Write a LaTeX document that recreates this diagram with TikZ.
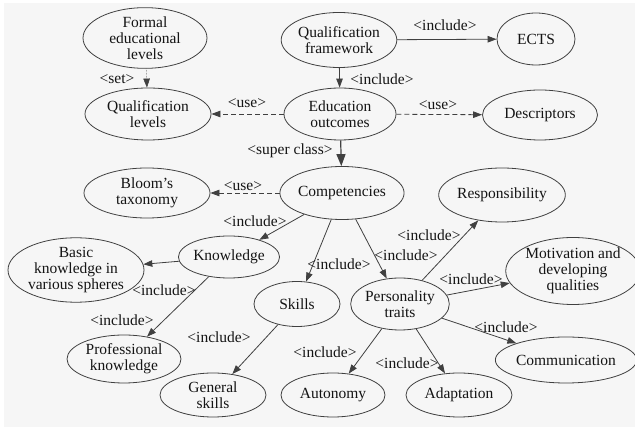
\documentclass[tikz,border=0pt]{standalone}
\usepackage{fontspec}
\setmainfont{Liberation Serif}
\usetikzlibrary{shapes.geometric,arrows.meta}
\definecolor{bgcol}{HTML}{F6F6F6}
\definecolor{edgecol}{HTML}{404040}
\definecolor{txtcol}{HTML}{141414}

\tikzset{
  concept/.style={ellipse, draw=edgecol, line width=0.8pt, inner sep=0pt,
    align=center, text=txtcol, font=\fontsize{15.5}{16}\selectfont},
  rel/.style={draw=edgecol, line width=0.8pt, -{Triangle[length=9pt,width=6.5pt]}},
  userel/.style={rel, dash pattern=on 5pt off 3pt},
  setrel/.style={rel, line width=0.5pt, densely dotted},
  superrel/.style={draw=edgecol, line width=1.2pt, -{Triangle[length=12pt,width=9pt]}},
  lbl/.style={inner sep=0pt, text=txtcol, font=\fontsize{15.5}{16}\selectfont},
}

\begin{document}
\begin{tikzpicture}[x=1pt,y=-1pt]
  \useasboundingbox (0,0) rectangle (635,427);
  \fill[bgcol] (4,3) rectangle (635,427);

  % concepts
  \node[concept, minimum width=124pt, minimum height=52pt] (formal) at (145,38) {Formal\\educational\\levels};
  \node[concept, minimum width=114pt, minimum height=55pt] (qframe) at (339,40) {Qualification\\framework};
  \node[concept, minimum width=78pt, minimum height=52pt] (ects) at (536,39) {ECTS};
  \node[concept, minimum width=126pt, minimum height=52pt] (qlevels) at (148,114) {Qualification\\levels};
  \node[concept, minimum width=112pt, minimum height=52pt] (eduout) at (340,114) {Education\\outcomes};
  \node[concept, minimum width=115pt, minimum height=50pt] (descr) at (540,115) {Descriptors};
  \node[concept, minimum width=126pt, minimum height=50pt] (bloom) at (147,193) {Bloom{\char"27}s\\taxonomy};
  \node[concept, minimum width=118pt, minimum height=53pt] (compet) at (342,193) {Competencies};
  \node[concept, minimum width=119pt, minimum height=54pt] (resp) at (502,195) {Responsibility};
  \node[concept, minimum width=98pt, minimum height=42pt] (knowl) at (229,257) {Knowledge};
  \node[concept, minimum width=136pt, minimum height=64pt] (basic) at (76,270) {Basic\\knowledge in\\various spheres};
  \node[concept, minimum width=86pt, minimum height=45pt] (skills) at (297,304) {Skills};
  \node[concept, minimum width=95pt, minimum height=52pt] (pers) at (400,304) {Personality\\traits};
  \node[concept, minimum width=124pt, minimum height=67pt] (motiv) at (573,271) {Motivation and\\developing\\qualities};
  \node[concept, minimum width=114pt, minimum height=48pt] (prof) at (124,359) {Professional\\knowledge};
  \node[concept, minimum width=106pt, minimum height=44pt] (gen) at (213,395) {General\\skills};
  \node[concept, minimum width=104pt, minimum height=44pt] (auton) at (333,395) {Autonomy};
  \node[concept, minimum width=106pt, minimum height=44pt] (adapt) at (459,395) {Adaptation};
  \node[concept, minimum width=138pt, minimum height=46pt] (comm) at (566,360) {Communication};

  % relations
  \draw[setrel] (formal) -- (qlevels);
  \draw[rel] (qframe) -- (eduout);
  \draw[rel] (qframe) -- (ects);
  \draw[userel] (eduout) -- (qlevels);
  \draw[userel] (eduout) -- (descr);
  \draw[superrel] (eduout) -- (compet);
  \draw[userel] (compet) -- (bloom);
  \draw[rel] (compet) -- (knowl);
  \draw[rel] (compet) -- (skills);
  \draw[rel] (compet) -- (pers);
  \draw[rel] (knowl) -- (basic);
  \draw[rel] (knowl) -- (prof);
  \draw[rel] (skills) -- (gen);
  \draw[rel] (pers) -- (resp);
  \draw[rel] (pers) -- (motiv);
  \draw[rel] (pers) -- (comm);
  \draw[rel] (pers) -- (auton);
  \draw[rel] (pers) -- (adapt);

  % relation labels
  \node[lbl] (l-set) at (117,79) {<set>};
  \node[lbl] (l-qe) at (382,79) {<include>};
  \node[lbl] (l-qc) at (445,25) {<include>};
  \node[lbl] (l-uq) at (247,103) {<use>};
  \node[lbl] (l-ud) at (438,105) {<use>};
  \node[lbl] (l-sup) at (290,151) {<super class>};
  \node[lbl] (l-ub) at (243,186) {<use>};
  \node[lbl] (l-ck) at (255,221) {<include>};
  \node[lbl] (l-cs) at (339,264) {<include>};
  \node[lbl] (l-cp) at (406,255) {<include>};
  \node[lbl] (l-pr) at (429,235) {<include>};
  \node[lbl] (l-pm) at (471,279) {<include>};
  \node[lbl] (l-pc) at (506,327) {<include>};
  \node[lbl] (l-pd) at (407,363) {<include>};
  \node[lbl] (l-pa) at (325,352) {<include>};
  \node[lbl] (l-sg) at (219,337) {<include>};
  \node[lbl] (l-kb) at (164,290) {<include>};
  \node[lbl] (l-kp) at (122,320) {<include>};
\end{tikzpicture}
\end{document}
